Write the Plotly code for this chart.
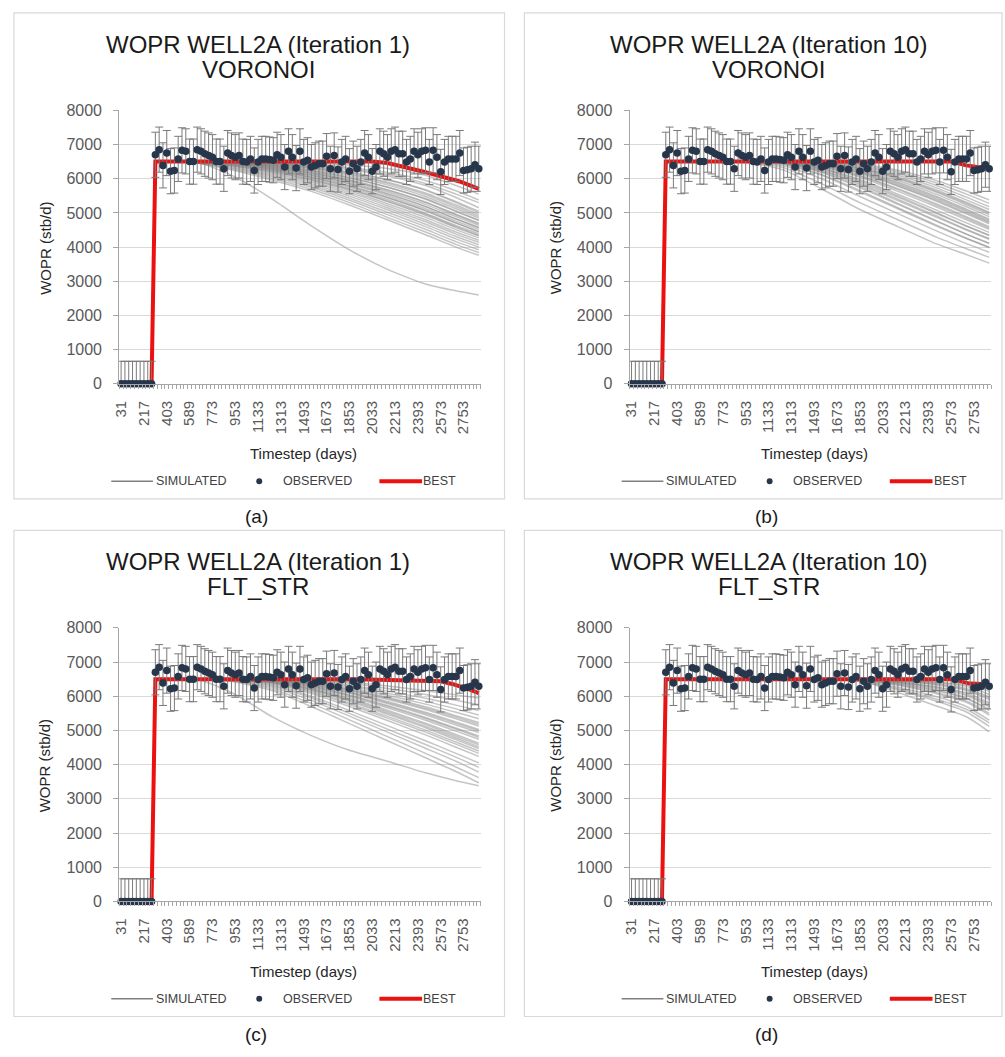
import plotly.graph_objects as go

# ---------------------------------------------------------------- data
TIMESTEPS = [31, 62, 93, 124, 155, 186, 217, 248, 279, 310, 341, 372, 403,
             434, 465, 496, 527, 558, 589, 620, 650, 681, 711, 742, 773,
             803, 833, 863, 893, 923, 953, 983, 1013, 1043, 1073, 1103, 1133,
             1163, 1193, 1223, 1253, 1283, 1313, 1343, 1373, 1403, 1433, 1463, 1493,
             1523, 1553, 1583, 1613, 1643, 1673, 1703, 1733, 1763, 1793, 1823, 1853,
             1883, 1913, 1943, 1973, 2003, 2033, 2063, 2093, 2123, 2153, 2183, 2213,
             2243, 2273, 2303, 2333, 2363, 2393, 2423, 2453, 2483, 2513, 2543, 2573,
             2603, 2633, 2663, 2693, 2723, 2753, 2783, 2813, 2843, 2873]
LABEL_EVERY = 6

# observed oil rate (stb/d); the well is shut in for the first nine steps
OBSERVED = [0, 0, 0, 0, 0, 0, 0, 0, 0,
            6700, 6850, 6390, 6750, 6220, 6240, 6580, 6830, 6800, 6500,
            6500, 6850, 6800, 6730, 6680, 6630, 6500, 6500, 6290, 6750,
            6680, 6630, 6680, 6500, 6490, 6580, 6240, 6490, 6580, 6580,
            6560, 6540, 6700, 6630, 6340, 6800, 6630, 6310, 6800, 6490,
            6540, 6340, 6390, 6440, 6440, 6660, 6290, 6680, 6270, 6490,
            6580, 6220, 6440, 6290, 6490, 6750, 6630, 6220, 6340, 6800,
            6730, 6630, 6800, 6850, 6730, 6730, 6490, 6580, 6800, 6700,
            6800, 6830, 6490, 6830, 6630, 6200, 6490, 6580, 6580, 6580,
            6750, 6240, 6260, 6290, 6410, 6290]
OBS_ERROR = 660

# simulated ensemble members, sampled at these step indices
SIM_KNOTS = [9, 20, 30, 40, 50, 60, 70, 80, 88, 94]

SIM_VORONOI_IT1 = [
    [6500, 6480, 6050, 5380, 4620, 3920, 3350, 2920, 2720, 2600],
    [6500, 6500, 6500, 6480, 6450, 6400, 6300, 6100, 5800, 5550],
    [6500, 6500, 6500, 6470, 6420, 6330, 6180, 5950, 5650, 5380],
    [6500, 6500, 6490, 6450, 6380, 6260, 6080, 5800, 5450, 5150],
    [6500, 6500, 6490, 6440, 6350, 6200, 5980, 5680, 5330, 5050],
    [6500, 6500, 6480, 6420, 6320, 6150, 5900, 5580, 5230, 4950],
    [6500, 6500, 6480, 6400, 6280, 6080, 5820, 5480, 5120, 4850],
    [6500, 6500, 6470, 6380, 6240, 6030, 5750, 5400, 5040, 4780],
    [6500, 6500, 6470, 6370, 6210, 5980, 5680, 5320, 4960, 4700],
    [6500, 6500, 6460, 6350, 6180, 5940, 5620, 5250, 4890, 4640],
    [6500, 6500, 6460, 6340, 6150, 5900, 5570, 5190, 4830, 4580],
    [6500, 6500, 6450, 6320, 6120, 5850, 5510, 5120, 4760, 4510],
    [6500, 6500, 6450, 6300, 6090, 5800, 5450, 5060, 4700, 4450],
    [6500, 6500, 6440, 6280, 6050, 5750, 5390, 4990, 4630, 4390],
    [6500, 6500, 6430, 6260, 6020, 5700, 5330, 4930, 4570, 4330],
    [6500, 6490, 6420, 6230, 5980, 5650, 5270, 4870, 4510, 4270],
    [6500, 6490, 6400, 6200, 5940, 5600, 5210, 4800, 4440, 4200],
    [6500, 6490, 6380, 6170, 5900, 5550, 5150, 4740, 4380, 4140],
    [6500, 6480, 6360, 6130, 5850, 5490, 5090, 4670, 4310, 4070],
    [6500, 6480, 6330, 6090, 5800, 5430, 5020, 4600, 4240, 4000],
    [6500, 6470, 6300, 6050, 5750, 5370, 4950, 4520, 4160, 3920],
    [6500, 6460, 6270, 6000, 5690, 5300, 4870, 4440, 4080, 3840],
    [6500, 6450, 6230, 5950, 5630, 5230, 4800, 4360, 4000, 3760],
    [6500, 6500, 6490, 6460, 6400, 6300, 6120, 5860, 5550, 5300],
    [6500, 6500, 6480, 6430, 6330, 6180, 5960, 5660, 5300, 5000],
    [6500, 6500, 6470, 6400, 6300, 6120, 5870, 5540, 5180, 4900],
    [6500, 6500, 6460, 6370, 6230, 6030, 5760, 5420, 5060, 4790],
    [6500, 6500, 6450, 6330, 6170, 5950, 5660, 5300, 4940, 4680],
    [6500, 6490, 6420, 6290, 6100, 5860, 5550, 5180, 4820, 4560],
    [6500, 6490, 6400, 6250, 6040, 5780, 5450, 5070, 4710, 4450],
    [6500, 6480, 6370, 6200, 5970, 5690, 5350, 4960, 4600, 4340],
]

SIM_VORONOI_IT10 = [
    [6500, 6500, 6480, 6250, 5700, 5100, 4600, 4100, 3780, 3530],
    [6500, 6500, 6490, 6320, 5850, 5300, 4800, 4300, 3950, 3700],
    [6500, 6500, 6490, 6380, 6000, 5480, 4980, 4480, 4100, 3850],
    [6500, 6500, 6500, 6420, 6100, 5620, 5120, 4620, 4250, 4000],
    [6500, 6500, 6500, 6450, 6180, 5740, 5250, 4760, 4380, 4120],
    [6500, 6500, 6500, 6460, 6230, 5830, 5360, 4880, 4500, 4230],
    [6500, 6500, 6500, 6470, 6280, 5910, 5460, 4990, 4610, 4340],
    [6500, 6500, 6500, 6480, 6310, 5980, 5550, 5090, 4710, 4430],
    [6500, 6500, 6500, 6480, 6340, 6040, 5630, 5180, 4800, 4520],
    [6500, 6500, 6500, 6490, 6370, 6100, 5710, 5270, 4890, 4600],
    [6500, 6500, 6500, 6490, 6390, 6150, 5780, 5350, 4970, 4680],
    [6500, 6500, 6500, 6490, 6410, 6190, 5840, 5420, 5040, 4750],
    [6500, 6500, 6500, 6500, 6430, 6230, 5900, 5490, 5110, 4820],
    [6500, 6500, 6500, 6500, 6440, 6260, 5950, 5550, 5180, 4890],
    [6500, 6500, 6500, 6500, 6450, 6290, 6000, 5610, 5240, 4950],
    [6500, 6500, 6500, 6500, 6460, 6320, 6050, 5680, 5310, 5020],
    [6500, 6500, 6500, 6500, 6470, 6350, 6100, 5740, 5380, 5100],
    [6500, 6500, 6500, 6500, 6480, 6380, 6150, 5810, 5460, 5180],
    [6500, 6500, 6500, 6500, 6490, 6410, 6200, 5880, 5550, 5280],
    [6500, 6500, 6500, 6500, 6490, 6430, 6250, 5950, 5640, 5380],
    [6500, 6500, 6500, 6480, 6300, 5950, 5500, 5020, 4620, 4350],
    [6500, 6500, 6500, 6470, 6250, 5870, 5400, 4920, 4520, 4250],
    [6500, 6500, 6500, 6490, 6360, 6080, 5680, 5230, 4850, 4560],
    [6500, 6500, 6500, 6490, 6400, 6170, 5800, 5380, 5000, 4720],
    [6500, 6500, 6500, 6500, 6420, 6210, 5870, 5460, 5080, 4790],
    [6500, 6500, 6500, 6500, 6450, 6300, 6020, 5640, 5280, 4990],
    [6500, 6500, 6500, 6470, 6200, 5780, 5280, 4780, 4380, 4100],
    [6500, 6500, 6500, 6440, 6120, 5660, 5150, 4650, 4260, 3980],
]

SIM_FLTSTR_IT1 = [
    [6500, 6500, 6050, 5380, 4850, 4420, 4100, 3760, 3530, 3380],
    [6500, 6500, 6420, 6150, 5700, 5200, 4700, 4200, 3800, 3470],
    [6500, 6500, 6450, 6250, 5880, 5420, 4950, 4480, 4100, 3780],
    [6500, 6500, 6470, 6320, 6000, 5580, 5140, 4700, 4330, 4050],
    [6500, 6500, 6480, 6360, 6080, 5700, 5290, 4870, 4510, 4240],
    [6500, 6500, 6490, 6390, 6150, 5800, 5410, 5010, 4660, 4400],
    [6500, 6500, 6490, 6410, 6200, 5880, 5510, 5120, 4780, 4520],
    [6500, 6500, 6500, 6430, 6240, 5940, 5590, 5210, 4880, 4630],
    [6500, 6500, 6500, 6440, 6270, 5990, 5660, 5300, 4980, 4740],
    [6500, 6500, 6500, 6450, 6300, 6040, 5730, 5380, 5070, 4840],
    [6500, 6500, 6500, 6460, 6330, 6090, 5790, 5460, 5160, 4940],
    [6500, 6500, 6500, 6470, 6350, 6130, 5850, 5530, 5250, 5030],
    [6500, 6500, 6500, 6480, 6370, 6170, 5910, 5610, 5340, 5130],
    [6500, 6500, 6500, 6480, 6390, 6210, 5970, 5690, 5430, 5230],
    [6500, 6500, 6500, 6490, 6410, 6250, 6030, 5770, 5530, 5340],
    [6500, 6500, 6500, 6490, 6430, 6290, 6090, 5850, 5630, 5450],
    [6500, 6500, 6500, 6500, 6450, 6330, 6150, 5940, 5740, 5580],
    [6500, 6500, 6500, 6500, 6470, 6380, 6230, 6050, 5880, 5750],
    [6500, 6500, 6500, 6500, 6480, 6420, 6300, 6160, 6040, 5950],
    [6500, 6500, 6480, 6380, 6120, 5760, 5360, 4950, 4600, 4330],
    [6500, 6500, 6490, 6400, 6180, 5850, 5470, 5080, 4730, 4470],
    [6500, 6500, 6500, 6420, 6220, 5910, 5550, 5170, 4830, 4580],
    [6500, 6500, 6500, 6450, 6290, 6020, 5700, 5350, 5040, 4800],
    [6500, 6500, 6500, 6470, 6340, 6110, 5820, 5500, 5210, 4990],
    [6500, 6500, 6500, 6480, 6380, 6190, 5940, 5650, 5390, 5180],
    [6500, 6500, 6460, 6290, 5950, 5500, 5040, 4590, 4220, 3920],
    [6500, 6500, 6440, 6200, 5790, 5310, 4820, 4330, 3930, 3620],
]

SIM_FLTSTR_IT10 = [
    [6500, 6500, 6500, 6500, 6500, 6450, 6110, 5720, 5400, 4960],
    [6500, 6500, 6500, 6500, 6490, 6440, 6180, 5860, 5540, 5120],
    [6500, 6500, 6500, 6500, 6490, 6460, 6260, 5990, 5700, 5300],
    [6500, 6500, 6500, 6500, 6500, 6470, 6320, 6080, 5820, 5450],
    [6500, 6500, 6500, 6500, 6500, 6480, 6360, 6160, 5930, 5580],
    [6500, 6500, 6500, 6500, 6500, 6490, 6400, 6230, 6020, 5700],
    [6500, 6500, 6500, 6500, 6500, 6490, 6420, 6280, 6100, 5810],
    [6500, 6500, 6500, 6500, 6500, 6500, 6440, 6330, 6170, 5900],
    [6500, 6500, 6500, 6500, 6500, 6500, 6460, 6370, 6230, 5980],
    [6500, 6500, 6500, 6500, 6500, 6500, 6470, 6400, 6290, 6050],
    [6500, 6500, 6500, 6500, 6500, 6500, 6480, 6420, 6330, 6150],
    [6500, 6500, 6500, 6500, 6500, 6480, 6380, 6190, 5950, 5620],
    [6500, 6500, 6500, 6500, 6500, 6470, 6340, 6110, 5860, 5500],
    [6500, 6500, 6500, 6500, 6490, 6450, 6220, 5920, 5620, 5220],
    [6500, 6500, 6500, 6500, 6500, 6490, 6410, 6260, 6060, 5760],
    [6500, 6500, 6500, 6500, 6500, 6500, 6450, 6350, 6200, 5950],
]

# best-matching member: step indices and rates
BEST_VORONOI_IT1_IDX = [0, 8, 9, 66, 70, 74, 79, 83, 89, 94]
BEST_VORONOI_IT1 = [0, 0, 6500, 6500, 6460, 6360, 6220, 6100, 5920, 5700]
BEST_VORONOI_IT10_IDX = [0, 8, 9, 84, 88, 94]
BEST_VORONOI_IT10 = [0, 0, 6500, 6500, 6390, 6290]
BEST_FLTSTR_IT1_IDX = [0, 8, 9, 62, 84, 87, 91, 94]
BEST_FLTSTR_IT1 = [0, 0, 6500, 6500, 6440, 6360, 6220, 6090]
BEST_FLTSTR_IT10_IDX = [0, 8, 9, 84, 89, 94]
BEST_FLTSTR_IT10 = [0, 0, 6500, 6500, 6370, 6350]

PANELS = [
    ("WOPR WELL2A (Iteration 1)", "VORONOI", "(a)",
     SIM_VORONOI_IT1, BEST_VORONOI_IT1_IDX, BEST_VORONOI_IT1),
    ("WOPR WELL2A (Iteration 10)", "VORONOI", "(b)",
     SIM_VORONOI_IT10, BEST_VORONOI_IT10_IDX, BEST_VORONOI_IT10),
    ("WOPR WELL2A (Iteration 1)", "FLT_STR", "(c)",
     SIM_FLTSTR_IT1, BEST_FLTSTR_IT1_IDX, BEST_FLTSTR_IT1),
    ("WOPR WELL2A (Iteration 10)", "FLT_STR", "(d)",
     SIM_FLTSTR_IT10, BEST_FLTSTR_IT10_IDX, BEST_FLTSTR_IT10),
]

# ---------------------------------------------------------------- styling
W, H = 1005, 1057
FONT = "Liberation Sans, Arial, sans-serif"
SIM_COLOR = "rgba(140,140,140,0.5)"
OBS_COLOR = "#27364a"
BEST_COLOR = "#ec1010"
GRID = "#d9d9d9"
AXIS = "#a6a6a6"
TICKFONT = "#595959"

# pixel offsets of each panel (left column / right column, top row / bottom row)
OFFSETS = [(0, 0), (514, 0), (0, 526), (514, 526)]
PLOT_L, PLOT_R, PLOT_T, PLOT_B = 113, 477, 104, 382


def px(x):
    return x / W


def py(y):
    return 1 - y / H


n = len(TIMESTEPS)
idx = list(range(n))
tick_pos = idx[::LABEL_EVERY]
tick_txt = [str(t) for t in TIMESTEPS[::LABEL_EVERY]]
err_minus = [min(OBS_ERROR, v) for v in OBSERVED]

fig = go.Figure()
shapes, annotations = [], []
layout_axes = {}


def ann(text, x, y, size, color="#1a1a1a", xanchor="center", angle=0):
    annotations.append(dict(text=text, x=px(x), y=py(y), xref="paper", yref="paper",
                            xanchor=xanchor, yanchor="middle", showarrow=False,
                            textangle=angle,
                            font=dict(family=FONT, size=size, color=color)))


for k, (title1, title2, caption, sims, best_idx, best_val) in enumerate(PANELS):
    ox, oy = OFFSETS[k]
    sfx = "" if k == 0 else str(k + 1)
    xa, ya = "x" + sfx, "y" + sfx

    for sim in sims:
        fig.add_trace(go.Scatter(
            x=SIM_KNOTS, y=sim, mode="lines", xaxis=xa, yaxis=ya,
            line=dict(color=SIM_COLOR, width=1.5, shape="spline", smoothing=0.6),
            hoverinfo="skip", showlegend=False))

    fig.add_trace(go.Scatter(
        x=best_idx, y=best_val, mode="lines", xaxis=xa, yaxis=ya,
        line=dict(color=BEST_COLOR, width=4), showlegend=False))

    fig.add_trace(go.Scatter(
        x=idx, y=OBSERVED, mode="markers", xaxis=xa, yaxis=ya,
        marker=dict(color=OBS_COLOR, size=7.5),
        error_y=dict(type="data", symmetric=False, array=[OBS_ERROR] * n,
                     arrayminus=err_minus, color="#7a7a7a", thickness=1, width=4),
        cliponaxis=False, showlegend=False))

    layout_axes["xaxis" + sfx] = dict(
        domain=[px(PLOT_L + ox), px(PLOT_R + ox)], anchor=ya,
        range=[-0.5, n - 0.5], tickmode="array", tickvals=tick_pos, ticktext=tick_txt,
        tickangle=-90, ticks="", ticklabelstandoff=10,
        tickfont=dict(family=FONT, size=15, color=TICKFONT),
        showgrid=False, zeroline=False, showline=True, linecolor=AXIS, linewidth=1,
        minor=dict(tickmode="array", tickvals=[i - 0.5 for i in range(n + 1)],
                   ticks="outside", ticklen=4, tickcolor=AXIS, showgrid=False))
    layout_axes["yaxis" + sfx] = dict(
        domain=[py(PLOT_B + oy), py(PLOT_T + oy)], anchor=xa,
        range=[0, 8000], dtick=1000, tick0=0,
        ticks="outside", ticklen=5, tickcolor=AXIS, ticklabelstandoff=8,
        tickfont=dict(family=FONT, size=16, color=TICKFONT),
        showgrid=True, gridcolor=GRID, gridwidth=1, zeroline=False,
        showline=True, linecolor=AXIS, linewidth=1)

    # panel frame
    right = 501 if k % 2 == 0 else 1002
    shapes.append(dict(type="rect", xref="paper", yref="paper",
                       x0=px(7 + ox), x1=px(right), y0=py(499 + oy), y1=py(5 + oy),
                       line=dict(color="#d9d9d9", width=1.2), fillcolor="rgba(0,0,0,0)"))

    ann(title1, 253 + ox, 37 + oy, 24)
    ann(title2, 253 + ox, 62 + oy, 24)
    ann("WOPR (stb/d)", 38 + ox, 244 + oy, 15, color="#262626", angle=-90)
    ann("Timestep (days)", 299 + ox, 453 + oy, 15, color="#262626")
    ann(caption, 251 + ox, 517 + oy, 19, color="#1a1a1a")

    # legend row
    ly = 481 + oy
    shapes.append(dict(type="line", xref="paper", yref="paper",
                       x0=px(105 + ox), x1=px(147 + ox), y0=py(ly), y1=py(ly),
                       line=dict(color="#808080", width=1.5)))
    shapes.append(dict(type="circle", xref="paper", yref="paper",
                       x0=px(251 + ox), x1=px(257 + ox), y0=py(ly + 3), y1=py(ly - 3),
                       line=dict(color=OBS_COLOR, width=0), fillcolor=OBS_COLOR))
    shapes.append(dict(type="line", xref="paper", yref="paper",
                       x0=px(375 + ox), x1=px(418 + ox), y0=py(ly), y1=py(ly),
                       line=dict(color=BEST_COLOR, width=4)))
    ann("SIMULATED", 148 + ox, ly, 12.5, color="#404040", xanchor="left")
    ann("OBSERVED", 276 + ox, ly, 12.5, color="#404040", xanchor="left")
    ann("BEST", 417 + ox, ly, 12.5, color="#404040", xanchor="left")

fig.update_layout(
    width=W, height=H, margin=dict(l=0, r=0, t=0, b=0),
    paper_bgcolor="white", plot_bgcolor="white",
    showlegend=False, shapes=shapes, annotations=annotations,
    font=dict(family=FONT), **layout_axes)

fig.write_html("out.html")
